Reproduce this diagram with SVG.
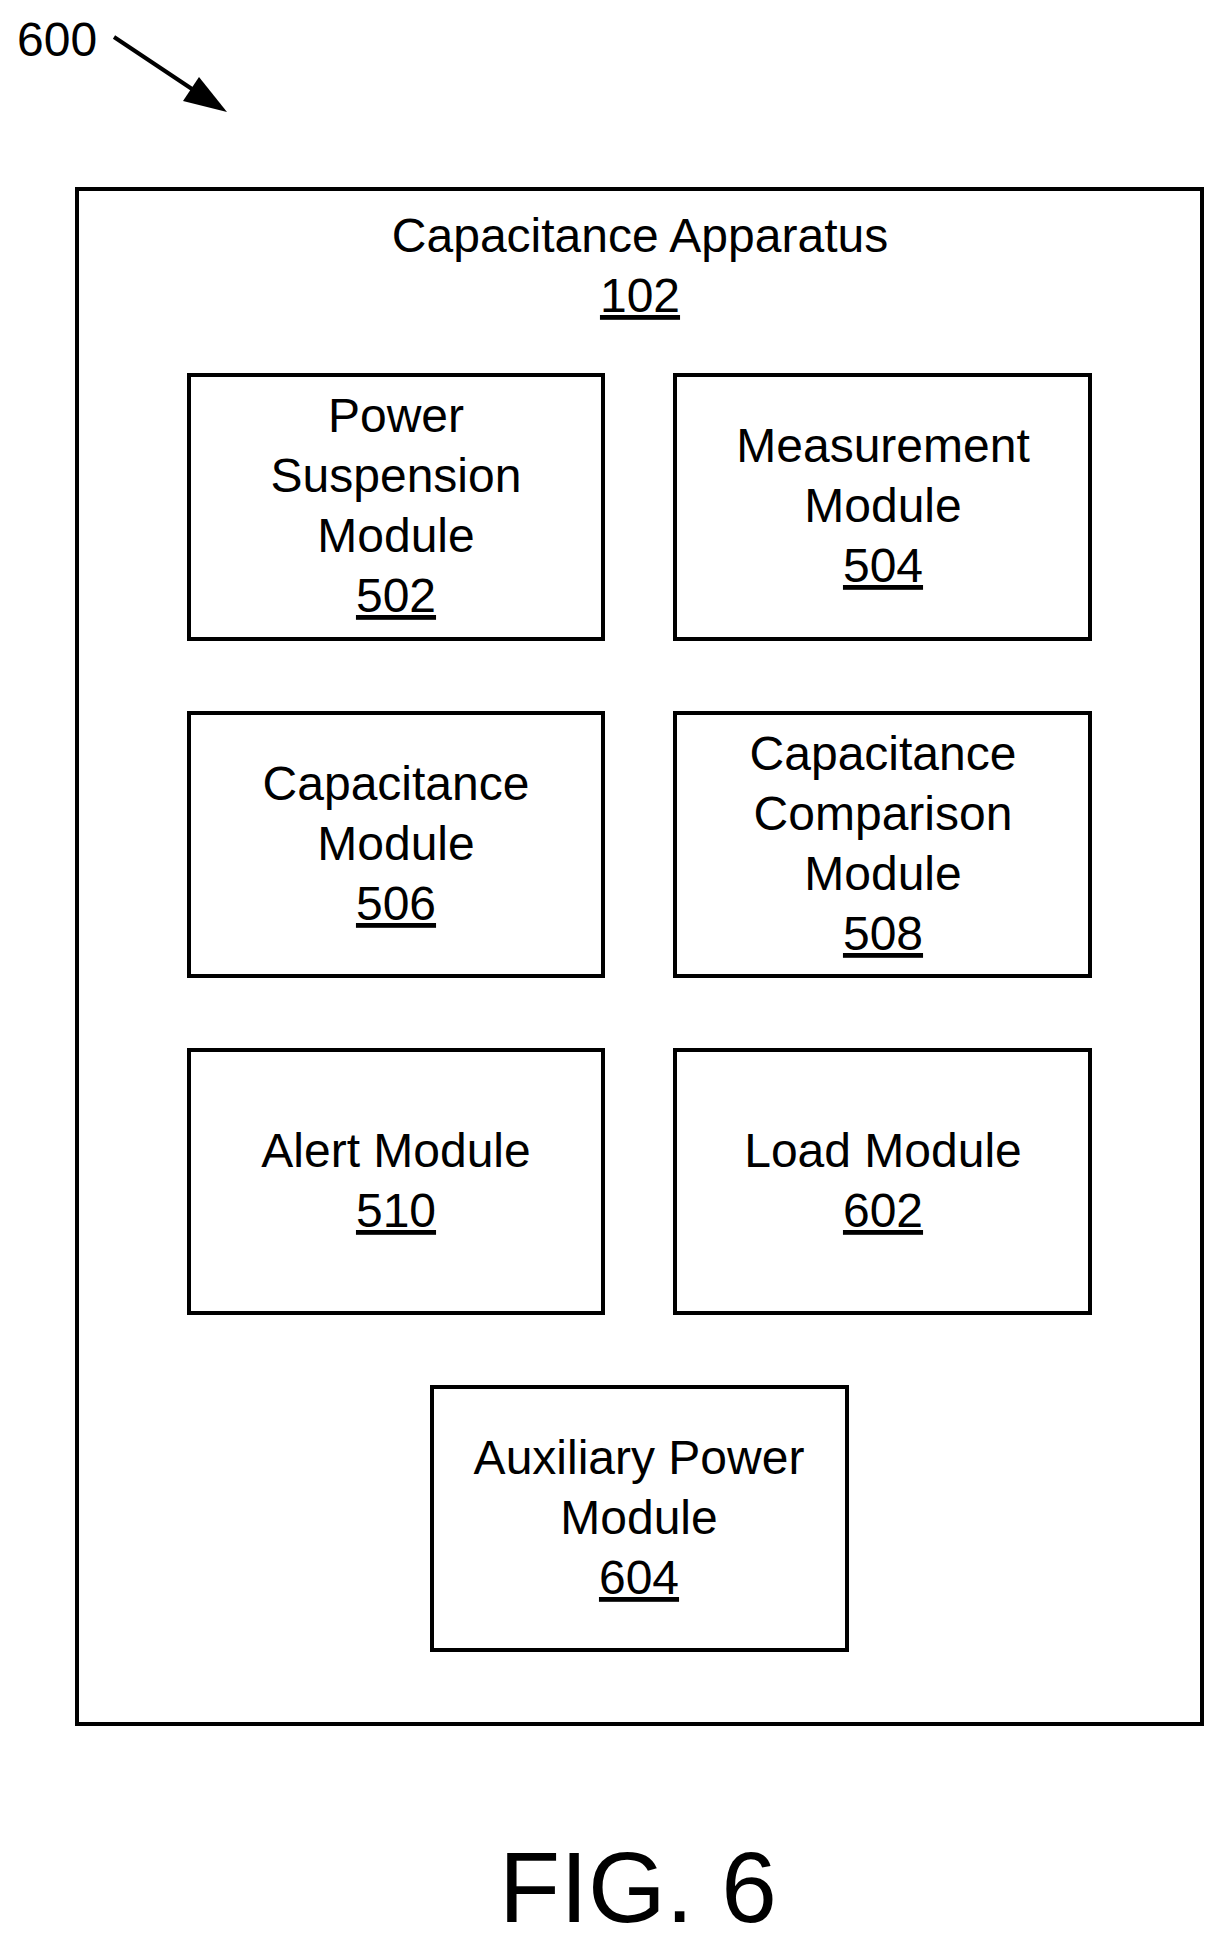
<svg xmlns="http://www.w3.org/2000/svg" width="1225" height="1948" viewBox="0 0 1225 1948">
<style>
text{font-family:"Liberation Sans",Arial,sans-serif;font-size:48px;fill:#000;text-anchor:middle}
.b{fill:#fff;stroke:#000;stroke-width:4}
.u{text-decoration:underline}
</style>
<rect width="1225" height="1948" fill="#fff"/>
<text x="17" y="56" style="text-anchor:start">600</text>
<g id="connectors"><path d="M114,37L210,101" stroke="#000" stroke-width="4" fill="none"/><path d="M227,112L183,101L199,77z"/></g>
<g id="n102"><rect class="b" x="77" y="189" width="1125" height="1535"/><text x="640" y="252">Capacitance Apparatus</text><text x="640" y="312" class="u">102</text></g>
<g id="n502"><rect class="b" x="189" y="375" width="414" height="264"/><text x="396" y="432">Power</text><text x="396" y="492">Suspension</text><text x="396" y="552">Module</text><text x="396" y="612" class="u">502</text></g>
<g id="n504"><rect class="b" x="675" y="375" width="415" height="264"/><text x="883" y="462">Measurement</text><text x="883" y="522">Module</text><text x="883" y="582" class="u">504</text></g>
<g id="n506"><rect class="b" x="189" y="713" width="414" height="263"/><text x="396" y="800">Capacitance</text><text x="396" y="860">Module</text><text x="396" y="920" class="u">506</text></g>
<g id="n508"><rect class="b" x="675" y="713" width="415" height="263"/><text x="883" y="770">Capacitance</text><text x="883" y="830">Comparison</text><text x="883" y="890">Module</text><text x="883" y="950" class="u">508</text></g>
<g id="n510"><rect class="b" x="189" y="1050" width="414" height="263"/><text x="396" y="1167">Alert Module</text><text x="396" y="1227" class="u">510</text></g>
<g id="n602"><rect class="b" x="675" y="1050" width="415" height="263"/><text x="883" y="1167">Load Module</text><text x="883" y="1227" class="u">602</text></g>
<g id="n604"><rect class="b" x="432" y="1387" width="415" height="263"/><text x="639" y="1474">Auxiliary Power</text><text x="639" y="1534">Module</text><text x="639" y="1594" class="u">604</text></g>
<text x="638" y="1922" style="font-size:100px">FIG. 6</text>
</svg>
